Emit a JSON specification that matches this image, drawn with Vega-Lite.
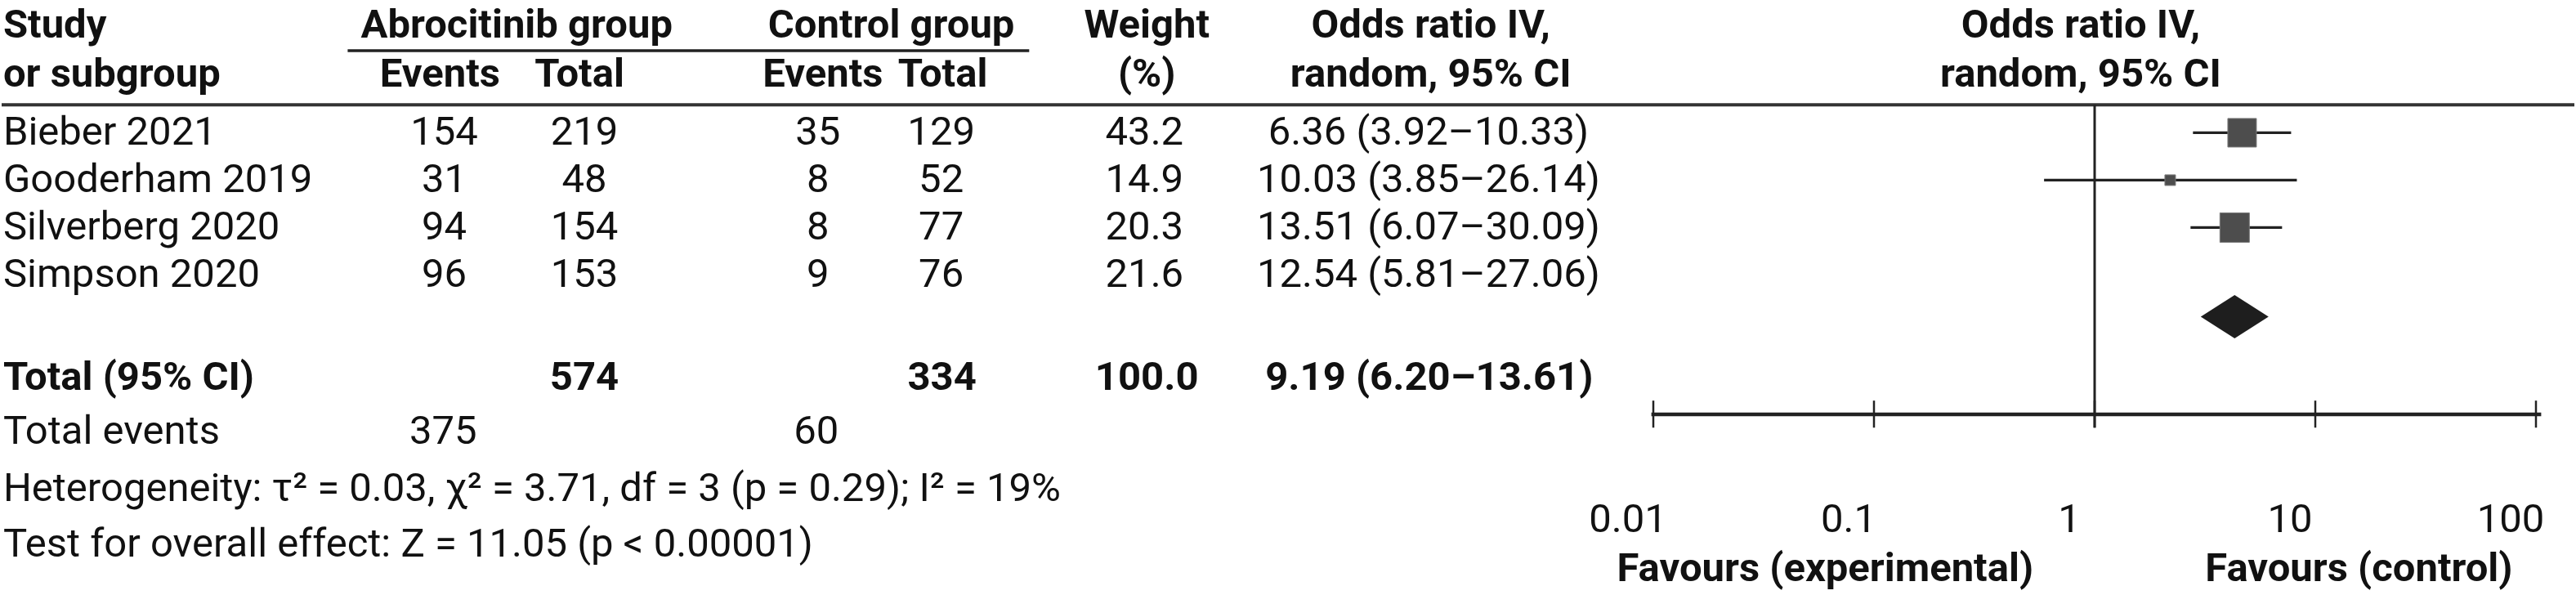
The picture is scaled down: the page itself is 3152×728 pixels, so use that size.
{
  "$schema": "https://vega.github.io/schema/vega-lite/v6.json",
  "width": 3152,
  "height": 728,
  "autosize": {"type": "fit", "contains": "padding"},
  "padding": 0,
  "background": "white",
  "config": {
    "view": {"stroke": null},
    "text": {"font": "Roboto", "fontSize": 49, "color": "#111111", "baseline": "middle"},
    "rule": {"color": "#222222"}
  },
  "datasets": {
    "studies": [
      {"study": "Bieber 2021", "line": 1, "abro_events": 154, "abro_total": 219, "ctrl_events": 35, "ctrl_total": 129, "weight": "43.2", "or_ci": "6.36 (3.92–10.33)"},
      {"study": "Gooderham 2019", "line": 2, "abro_events": 31, "abro_total": 48, "ctrl_events": 8, "ctrl_total": 52, "weight": "14.9", "or_ci": "10.03 (3.85–26.14)"},
      {"study": "Silverberg 2020", "line": 3, "abro_events": 94, "abro_total": 154, "ctrl_events": 8, "ctrl_total": 77, "weight": "20.3", "or_ci": "13.51 (6.07–30.09)"},
      {"study": "Simpson 2020", "line": 4, "abro_events": 96, "abro_total": 153, "ctrl_events": 9, "ctrl_total": 76, "weight": "21.6", "or_ci": "12.54 (5.81–27.06)"}
    ],
    "totals": [
      {"label": "Total (95% CI)", "abro_total": 574, "ctrl_total": 334, "weight": "100.0", "or_ci": "9.19 (6.20–13.61)", "events_label": "Total events", "abro_events": 375, "ctrl_events": 60}
    ],
    "forest": [
      {"study": "Bieber 2021", "line": 1, "or": 4.66, "lo": 2.79, "hi": 7.77},
      {"study": "Gooderham 2019", "line": 2, "or": 2.2, "lo": 0.59, "hi": 8.25},
      {"study": "Silverberg 2020", "line": 3, "or": 4.31, "lo": 2.72, "hi": 7.07}
    ],
    "pooled": [{"label": "Total (95% CI)", "or": 4.31, "lo": 3.01, "hi": 6.12}],
    "ticks": [
      {"v": 0.01, "label": "0.01"},
      {"v": 0.1, "label": "0.1"},
      {"v": 1, "label": "1"},
      {"v": 10, "label": "10"},
      {"v": 100, "label": "100"}
    ]
  },
  "resolve": {"scale": {"x": "independent"}},
  "layer": [
    {
      "data": {"name": "studies"},
      "layer": [
        {"mark": {"type": "text", "align": "left"}, "encoding": {"x": {"datum": 0.06, "type": "quantitative", "axis": null, "scale": {"domain": [0, 100], "nice": false, "zero": false}}, "y": {"field": "line", "type": "quantitative", "axis": null, "scale": {"domain": [-1.8, 10.75], "reverse": true, "nice": false, "zero": false}}, "text": {"field": "study"}}},
        {"mark": {"type": "text", "align": "center"}, "encoding": {"x": {"datum": 17.2, "type": "quantitative"}, "y": {"field": "line", "type": "quantitative"}, "text": {"field": "abro_events"}}},
        {"mark": {"type": "text", "align": "center"}, "encoding": {"x": {"datum": 22.65, "type": "quantitative"}, "y": {"field": "line", "type": "quantitative"}, "text": {"field": "abro_total"}}},
        {"mark": {"type": "text", "align": "center"}, "encoding": {"x": {"datum": 31.73, "type": "quantitative"}, "y": {"field": "line", "type": "quantitative"}, "text": {"field": "ctrl_events"}}},
        {"mark": {"type": "text", "align": "center"}, "encoding": {"x": {"datum": 36.52, "type": "quantitative"}, "y": {"field": "line", "type": "quantitative"}, "text": {"field": "ctrl_total"}}},
        {"mark": {"type": "text", "align": "center"}, "encoding": {"x": {"datum": 44.42, "type": "quantitative"}, "y": {"field": "line", "type": "quantitative"}, "text": {"field": "weight"}}},
        {"mark": {"type": "text", "align": "center"}, "encoding": {"x": {"datum": 55.46, "type": "quantitative"}, "y": {"field": "line", "type": "quantitative"}, "text": {"field": "or_ci"}}},

        {"data": {"values": [{"t": "Study"}]}, "mark": {"type": "text", "align": "left", "fontWeight": "bold", "fontSize": 49}, "encoding": {"x": {"datum": 0.06, "type": "quantitative"}, "y": {"datum": -1.26, "type": "quantitative"}, "text": {"field": "t"}}},
        {"data": {"values": [{"t": "or subgroup"}]}, "mark": {"type": "text", "align": "left", "fontWeight": "bold", "fontSize": 49}, "encoding": {"x": {"datum": 0.06, "type": "quantitative"}, "y": {"datum": -0.23, "type": "quantitative"}, "text": {"field": "t"}}},
        {"data": {"values": [{"t": "Abrocitinib group"}]}, "mark": {"type": "text", "align": "center", "fontWeight": "bold", "fontSize": 49}, "encoding": {"x": {"datum": 20.02, "type": "quantitative"}, "y": {"datum": -1.26, "type": "quantitative"}, "text": {"field": "t"}}},
        {"data": {"values": [{"t": "Control group"}]}, "mark": {"type": "text", "align": "center", "fontWeight": "bold", "fontSize": 49}, "encoding": {"x": {"datum": 34.58, "type": "quantitative"}, "y": {"datum": -1.26, "type": "quantitative"}, "text": {"field": "t"}}},
        {"data": {"values": [{"t": "Weight"}]}, "mark": {"type": "text", "align": "center", "fontWeight": "bold", "fontSize": 49}, "encoding": {"x": {"datum": 44.51, "type": "quantitative"}, "y": {"datum": -1.26, "type": "quantitative"}, "text": {"field": "t"}}},
        {"data": {"values": [{"t": "(%)"}]}, "mark": {"type": "text", "align": "center", "fontWeight": "bold", "fontSize": 49}, "encoding": {"x": {"datum": 44.51, "type": "quantitative"}, "y": {"datum": -0.23, "type": "quantitative"}, "text": {"field": "t"}}},
        {"data": {"values": [{"t": "Events"}]}, "mark": {"type": "text", "align": "center", "fontWeight": "bold", "fontSize": 49}, "encoding": {"x": {"datum": 17.04, "type": "quantitative"}, "y": {"datum": -0.23, "type": "quantitative"}, "text": {"field": "t"}}},
        {"data": {"values": [{"t": "Total"}]}, "mark": {"type": "text", "align": "center", "fontWeight": "bold", "fontSize": 49}, "encoding": {"x": {"datum": 22.46, "type": "quantitative"}, "y": {"datum": -0.23, "type": "quantitative"}, "text": {"field": "t"}}},
        {"data": {"values": [{"t": "Events"}]}, "mark": {"type": "text", "align": "center", "fontWeight": "bold", "fontSize": 49}, "encoding": {"x": {"datum": 31.92, "type": "quantitative"}, "y": {"datum": -0.23, "type": "quantitative"}, "text": {"field": "t"}}},
        {"data": {"values": [{"t": "Total"}]}, "mark": {"type": "text", "align": "center", "fontWeight": "bold", "fontSize": 49}, "encoding": {"x": {"datum": 36.58, "type": "quantitative"}, "y": {"datum": -0.23, "type": "quantitative"}, "text": {"field": "t"}}},
        {"data": {"values": [{"t": "Odds ratio IV,"}]}, "mark": {"type": "text", "align": "center", "fontWeight": "bold", "fontSize": 49}, "encoding": {"x": {"datum": 55.55, "type": "quantitative"}, "y": {"datum": -1.26, "type": "quantitative"}, "text": {"field": "t"}}},
        {"data": {"values": [{"t": "random, 95% CI"}]}, "mark": {"type": "text", "align": "center", "fontWeight": "bold", "fontSize": 49}, "encoding": {"x": {"datum": 55.55, "type": "quantitative"}, "y": {"datum": -0.23, "type": "quantitative"}, "text": {"field": "t"}}},
        {"data": {"values": [{"t": "Odds ratio IV,"}]}, "mark": {"type": "text", "align": "center", "fontWeight": "bold", "fontSize": 49}, "encoding": {"x": {"datum": 80.81, "type": "quantitative"}, "y": {"datum": -1.26, "type": "quantitative"}, "text": {"field": "t"}}},
        {"data": {"values": [{"t": "random, 95% CI"}]}, "mark": {"type": "text", "align": "center", "fontWeight": "bold", "fontSize": 49}, "encoding": {"x": {"datum": 80.81, "type": "quantitative"}, "y": {"datum": -0.23, "type": "quantitative"}, "text": {"field": "t"}}},

        {"data": {"values": [{}]}, "mark": {"type": "rule", "strokeWidth": 3.5}, "encoding": {"x": {"datum": 13.45, "type": "quantitative"}, "x2": {"datum": 39.94}, "y": {"datum": -0.73, "type": "quantitative"}}},
        {"data": {"values": [{}]}, "mark": {"type": "rule", "strokeWidth": 4, "color": "#333333"}, "encoding": {"x": {"datum": 0, "type": "quantitative"}, "x2": {"datum": 100}, "y": {"datum": 0.41, "type": "quantitative"}}},

        {"data": {"name": "totals"}, "mark": {"type": "text", "align": "left", "fontWeight": "bold", "fontSize": 49}, "encoding": {"x": {"datum": 0.06, "type": "quantitative"}, "y": {"datum": 6.16, "type": "quantitative"}, "text": {"field": "label"}}},
        {"data": {"name": "totals"}, "mark": {"type": "text", "align": "center", "fontWeight": "bold", "fontSize": 49}, "encoding": {"x": {"datum": 22.65, "type": "quantitative"}, "y": {"datum": 6.16, "type": "quantitative"}, "text": {"field": "abro_total"}}},
        {"data": {"name": "totals"}, "mark": {"type": "text", "align": "center", "fontWeight": "bold", "fontSize": 49}, "encoding": {"x": {"datum": 36.55, "type": "quantitative"}, "y": {"datum": 6.16, "type": "quantitative"}, "text": {"field": "ctrl_total"}}},
        {"data": {"name": "totals"}, "mark": {"type": "text", "align": "center", "fontWeight": "bold", "fontSize": 49}, "encoding": {"x": {"datum": 44.51, "type": "quantitative"}, "y": {"datum": 6.16, "type": "quantitative"}, "text": {"field": "weight"}}},
        {"data": {"name": "totals"}, "mark": {"type": "text", "align": "center", "fontWeight": "bold", "fontSize": 49}, "encoding": {"x": {"datum": 55.49, "type": "quantitative"}, "y": {"datum": 6.16, "type": "quantitative"}, "text": {"field": "or_ci"}}},
        {"data": {"name": "totals"}, "mark": {"type": "text", "align": "left"}, "encoding": {"x": {"datum": 0.06, "type": "quantitative"}, "y": {"datum": 7.3, "type": "quantitative"}, "text": {"field": "events_label"}}},
        {"data": {"name": "totals"}, "mark": {"type": "text", "align": "center"}, "encoding": {"x": {"datum": 17.16, "type": "quantitative"}, "y": {"datum": 7.3, "type": "quantitative"}, "text": {"field": "abro_events"}}},
        {"data": {"name": "totals"}, "mark": {"type": "text", "align": "center"}, "encoding": {"x": {"datum": 31.66, "type": "quantitative"}, "y": {"datum": 7.3, "type": "quantitative"}, "text": {"field": "ctrl_events"}}},
        {"data": {"values": [{"t": "Heterogeneity: τ² = 0.03, χ² = 3.71, df = 3 (p = 0.29); I² = 19%"}]}, "mark": {"type": "text", "align": "left"}, "encoding": {"x": {"datum": 0.06, "type": "quantitative"}, "y": {"datum": 8.51, "type": "quantitative"}, "text": {"field": "t"}}},
        {"data": {"values": [{"t": "Test for overall effect: Z = 11.05 (p < 0.00001)"}]}, "mark": {"type": "text", "align": "left"}, "encoding": {"x": {"datum": 0.06, "type": "quantitative"}, "y": {"datum": 9.68, "type": "quantitative"}, "text": {"field": "t"}}}
      ]
    },
    {
      "data": {"name": "forest"},
      "layer": [
        {"data": {"values": [{}]}, "mark": {"type": "rule", "strokeWidth": 4.5}, "encoding": {"x": {"datum": 0.0098, "type": "quantitative", "axis": null, "scale": {"type": "log", "domain": [0.01, 100], "range": [2021, 3101], "nice": false}}, "x2": {"datum": 105.6}, "y": {"datum": 6.94, "type": "quantitative"}}},
        {"data": {"name": "ticks"}, "mark": {"type": "rule", "strokeWidth": 2.5}, "encoding": {"x": {"field": "v", "type": "quantitative"}, "y": {"datum": 6.65, "type": "quantitative"}, "y2": {"datum": 7.22}}},
        {"data": {"values": [{}]}, "mark": {"type": "rule", "strokeWidth": 3}, "encoding": {"x": {"datum": 1, "type": "quantitative"}, "y": {"datum": 0.41, "type": "quantitative"}, "y2": {"datum": 7.22}}},
        {"data": {"name": "ticks"}, "mark": {"type": "text", "align": "center", "dx": -31}, "encoding": {"x": {"field": "v", "type": "quantitative"}, "y": {"datum": 9.16, "type": "quantitative"}, "text": {"field": "label"}}},
        {"data": {"values": [{"t": "Favours (experimental)"}]}, "mark": {"type": "text", "align": "center", "fontWeight": "bold", "fontSize": 49}, "encoding": {"x": {"datum": 0.0601, "type": "quantitative"}, "y": {"datum": 10.2, "type": "quantitative"}, "text": {"field": "t"}}},
        {"data": {"values": [{"t": "Favours (control)"}]}, "mark": {"type": "text", "align": "center", "fontWeight": "bold", "fontSize": 49}, "encoding": {"x": {"datum": 15.77, "type": "quantitative"}, "y": {"datum": 10.2, "type": "quantitative"}, "text": {"field": "t"}}},
        {"mark": {"type": "rule", "strokeWidth": 3.3}, "encoding": {"x": {"field": "lo", "type": "quantitative"}, "x2": {"field": "hi"}, "y": {"field": "line", "type": "quantitative"}}},
        {"mark": {"type": "point", "shape": "square", "filled": true, "opacity": 1, "color": "#4d4d4d", "stroke": "#7a7a7a", "strokeWidth": 1}, "encoding": {"x": {"field": "or", "type": "quantitative"}, "y": {"field": "line", "type": "quantitative"}, "size": {"field": "study", "type": "nominal", "legend": null, "scale": {"type": "ordinal", "domain": ["Bieber 2021", "Gooderham 2019", "Silverberg 2020"], "range": [1225, 169, 1296]}}}},
        {"data": {"name": "pooled"}, "mark": {"type": "point", "shape": "M -1 0 L 0 -0.64 L 1 0 L 0 0.64 Z", "filled": true, "opacity": 1, "color": "#1e1e1e", "size": 6889}, "encoding": {"x": {"field": "or", "type": "quantitative"}, "y": {"datum": 4.88, "type": "quantitative"}}}
      ]
    }
  ]
}
